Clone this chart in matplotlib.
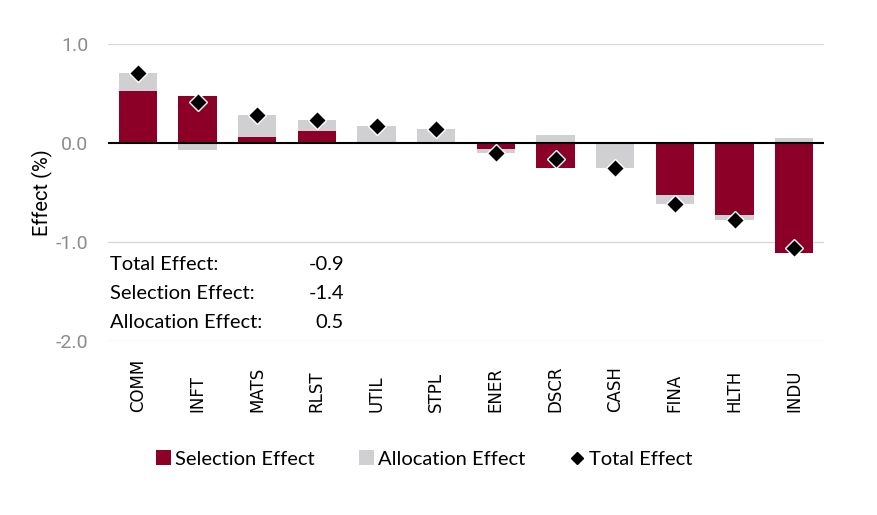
import numpy as np
import matplotlib
matplotlib.use("Agg")
import matplotlib.pyplot as plt
from matplotlib.lines import Line2D
from matplotlib.patches import Patch

# Данные
sectors = ["COMM", "INFT", "MATS", "RLST", "UTIL", "STPL",
           "ENER", "DSCR", "CASH", "FINA", "HLTH", "INDU"]
selection = [0.53, 0.47, 0.06, 0.12, 0.00, 0.00,
             -0.06, -0.25, 0.00, -0.53, -0.73, -1.11]
allocation = [0.18, -0.07, 0.22, 0.11, 0.17, 0.14,
              -0.04, 0.08, -0.25, -0.09, -0.05, 0.05]
total = [0.71, 0.41, 0.28, 0.23, 0.17, 0.14,
         -0.10, -0.16, -0.25, -0.62, -0.78, -1.06]

summary_labels = ["Total Effect:", "Selection Effect:", "Allocation Effect:"]
summary_values = ["-0.9", "-1.4", "0.5"]

sel_color = "#8C0028"
alloc_color = "#D0D0D2"

sel = np.array(selection)
alloc = np.array(allocation)
x = np.arange(len(sectors))

# основание для второго ряда (расходящееся накопление)
alloc_base = np.where(np.sign(alloc) == np.sign(sel), sel, 0.0)

fig = plt.figure(figsize=(8.77, 5.15), dpi=100)
ax = fig.add_axes([108 / 877, 1 - 341 / 515, 716 / 877, 297 / 515])

ax.bar(x, sel, width=0.64, color=sel_color, zorder=2)
ax.bar(x, alloc, bottom=alloc_base, width=0.64, color=alloc_color, zorder=2)
ax.plot(x, total, linestyle="none", marker="D", markersize=9.5,
        color="black", markeredgecolor="white", markeredgewidth=1.0, zorder=4)

ax.axhline(0, color="black", linewidth=1.5, zorder=3)
for yv in [1.0, -1.0, -2.0]:
    ax.axhline(yv, color="#D9D9D9", linewidth=1.0, zorder=1)

ax.set_xlim(-0.5, len(sectors) - 0.5)
ax.set_ylim(-2.0, 1.0)
ax.set_yticks([1.0, 0.0, -1.0, -2.0])
ax.set_yticklabels(["1.0", "0.0", "-1.0", "-2.0"])
ax.set_xticks(x)
# подписи выровнены по нижнему краю (как в исходнике)
ax.set_xticklabels(sectors, rotation=90, va="bottom")
ax.tick_params(axis="x", length=0, pad=51, labelsize=12,
               labelfontfamily="DejaVu Sans", labelcolor="black")
ax.tick_params(axis="y", length=0, pad=14, labelsize=14,
               labelfontfamily="Roboto", labelcolor="#8C8C8C")
for s in ax.spines.values():
    s.set_visible(False)

ax.set_ylabel("Effect (%)", fontfamily="Roboto", fontsize=14.5)
ax.yaxis.set_label_coords(-0.077, 0.5)

# Сводка
for i, (lab, val) in enumerate(zip(summary_labels, summary_values)):
    yp = 1 - (264 + 29.5 * i) / 515
    fig.text(110 / 877, yp, lab, fontfamily="Lato", fontsize=14.5, va="center")
    fig.text(344 / 877, yp, val, fontfamily="Lato", fontsize=14.5, va="center", ha="right")

# Легенда
handles = [
    Patch(facecolor=sel_color, edgecolor="none"),
    Patch(facecolor=alloc_color, edgecolor="none"),
    Line2D([], [], linestyle="none", marker="D", color="black", markersize=6),
]
fig.legend(handles, ["Selection Effect", "Allocation Effect", "Total Effect"],
           loc="center", bbox_to_anchor=(424 / 877, 1 - 459 / 515), ncol=3,
           frameon=False, prop={"family": "Lato", "size": 14.5},
           handlelength=0.75, handleheight=0.75, handletextpad=0.2, columnspacing=2.2)

fig.savefig("out.png", dpi=100)
